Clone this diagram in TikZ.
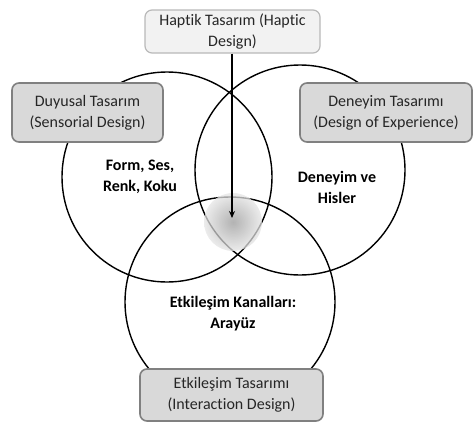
\documentclass[tikz,border=0pt]{standalone}
\usepackage{fontspec}
\setmainfont[Ligatures=CommonOff]{Carlito}
\usetikzlibrary{arrows.meta}
\tikzset{
  designbox/.style={draw=gray, line width=1.6pt, fill=gray!30, rounded corners=7pt,
    align=center, inner sep=0pt, text=black!85, font=\fontsize{16}{21}\selectfont},
  topbox/.style={designbox, draw=gray!55, line width=1.2pt, fill=gray!10},
  areatext/.style={align=center, inner sep=0pt, font=\bfseries\fontsize{16}{21}\selectfont},
  ring/.style={draw=black, line width=1.4pt}
}
\begin{document}
\begin{tikzpicture}[x=1pt,y=-1pt]
  \useasboundingbox (0,0) rectangle (473,423);

  % the three circles
  \draw[ring] (167,177) circle[radius=105pt];
  \draw[ring] (300,170) circle[radius=105pt];
  \draw[ring] (230,302) circle[radius=105pt];

  % shaded centre
  \shade[inner color=gray!80, outer color=gray!20, opacity=0.75] (233,222) circle[radius=29pt];
  \coordinate (centre) at (232,218);

  \node (form) at (140,177) [areatext] {Form, Ses,\\Renk, Koku};
  \node (hisler) at (337,187) [areatext] {Deneyim ve\\Hisler};
  \node (arayuz) at (233,314) [areatext] {Etkileşim Kanalları:\\Arayüz};

  \node (haptik) at (232.5,31.5) [topbox, minimum width=175pt, minimum height=43pt] {Haptik Tasarım (Haptic\\Design)};
  \node (duyusal) at (87.5,112.5) [designbox, minimum width=151pt, minimum height=59pt] {Duyusal Tasarım\\(Sensorial Design)};
  \node (deneyim) at (386,112.5) [designbox, minimum width=172pt, minimum height=59pt] {Deneyim Tasarımı\\(Design of Experience)};
  \node (etkilesim) at (231.5,395) [designbox, minimum width=183pt, minimum height=52pt] {Etkileşim Tasarımı\\(Interaction Design)};

  \draw[line width=2pt, -{Stealth[length=7pt,width=6pt]}] (haptik.south -| centre) -- (centre);
\end{tikzpicture}
\end{document}
